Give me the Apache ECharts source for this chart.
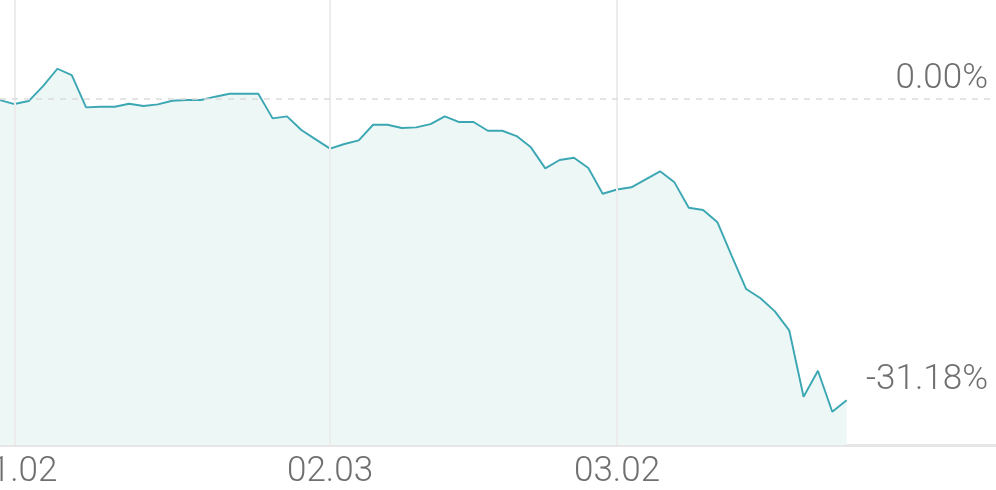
<!DOCTYPE html>
<html>
<head>
<meta charset="utf-8">
<script src="https://cdn.jsdelivr.net/npm/echarts@6.0.0/dist/echarts.min.js"></script>
<style>
  html, body { margin: 0; padding: 0; background: #ffffff; }
  #chart { width: 996px; height: 490px; }
</style>
</head>
<body>
<div id="chart"></div>
<script>
// Trading dates (month.day)
const dates = [
  '12.31','01.02','01.03','01.06','01.07','01.08','01.09','01.10','01.13','01.14',
  '01.15','01.16','01.17','01.20','01.21','01.22','01.23','01.24','01.27','01.28',
  '01.29','01.30','01.31','02.03','02.04','02.05','02.06','02.07','02.10','02.11',
  '02.12','02.13','02.14','02.17','02.18','02.19','02.20','02.21','02.24','02.25',
  '02.26','02.27','02.28','03.02','03.03','03.04','03.05','03.06','03.09','03.10',
  '03.11','03.12','03.13','03.16','03.17','03.18','03.19','03.20','03.23','03.24'
];
// Cumulative change, %
const changePct = [
  -0.14, -0.55, -0.24, 1.31, 3.10, 2.45, -0.89, -0.83, -0.83, -0.52,
  -0.75, -0.58, -0.21, -0.13, -0.13, 0.21, 0.52, 0.52, 0.52, -2.03,
  -1.82, -3.24, -4.20, -5.16, -4.68, -4.30, -2.69, -2.69, -3.03, -2.96,
  -2.62, -1.82, -2.41, -2.41, -3.31, -3.31, -3.86, -5.03, -7.20, -6.34,
  -6.10, -7.17, -9.83, -9.39, -9.16, -8.34, -7.51, -8.65, -11.27, -11.51,
  -12.78, -16.27, -19.68, -20.64, -21.99, -23.95, -30.82, -28.13, -32.37, -31.18
];
// Dates that carry an axis label and a vertical grid line
const tickLabels = ['01.02', '02.03', '03.02'];
// Reference levels labelled on the right
const refLevels = [0, changePct[changePct.length - 1]];

const LINE = '#3ba7b3';
const TEXT = '#6f6f6f';
const FONT = 'Roboto';

const chart = echarts.init(document.getElementById('chart'), null, { renderer: 'canvas' });

const tickIdx = tickLabels.map(t => dates.indexOf(t));

const refLabel = {
  show: true,
  position: 'insideEndTop',
  distance: [8, 2],
  color: TEXT,
  fontFamily: FONT,
  fontWeight: 300,
  fontSize: 35
};

chart.setOption({
  animation: false,
  backgroundColor: '#ffffff',
  grid: { left: 0, right: 0, top: 0, bottom: 45, containLabel: false, outerBoundsMode: 'none' },
  xAxis: {
    type: 'value',
    min: 0,
    max: 69.41,
    interval: 1,
    axisLine: { show: true, onZero: false, lineStyle: { color: '#e6e6e6', width: 3 } },
    axisTick: { show: false },
    splitLine: { show: false },
    axisLabel: {
      show: true,
      margin: 10,
      color: TEXT,
      fontFamily: FONT,
      fontWeight: 300,
      fontSize: 35,
      showMinLabel: true,
      showMaxLabel: true,
      hideOverlap: false,
      formatter: function (v) {
        const i = Math.round(v);
        return (dates[i] && tickLabels.indexOf(dates[i]) >= 0) ? dates[i] : '';
      }
    }
  },
  yAxis: {
    type: 'value',
    min: -35.81,
    max: 10.21,
    show: false,
    splitLine: { show: false }
  },
  series: [
    {
      type: 'line',
      data: [],
      z: 1,
      silent: true,
      markLine: {
        silent: true,
        symbol: 'none',
        animation: false,
        label: { show: false },
        lineStyle: { color: '#ececec', width: 2, type: 'solid' },
        data: tickIdx.map(i => ({ xAxis: i }))
      }
    },
    {
      type: 'line',
      z: 2,
      data: changePct.map((v, i) => [i, v]),
      showSymbol: false,
      symbol: 'none',
      lineStyle: { color: LINE, width: 1.9 },
      itemStyle: { color: LINE },
      areaStyle: { color: '#edf7f6', opacity: 1, origin: 'start' },
      markLine: {
        silent: true,
        symbol: 'none',
        animation: false,
        data: [
          {
            yAxis: refLevels[0],
            lineStyle: { color: '#dcdcdc', width: 1.5, type: [6, 6] },
            label: Object.assign({}, refLabel, { formatter: refLevels[0].toFixed(2) + '%' })
          },
          {
            yAxis: refLevels[1],
            lineStyle: { color: 'rgba(0,0,0,0)', width: 0 },
            label: Object.assign({}, refLabel, { formatter: refLevels[1].toFixed(2) + '%' })
          }
        ]
      }
    }
  ]
});
</script>
</body>
</html>
